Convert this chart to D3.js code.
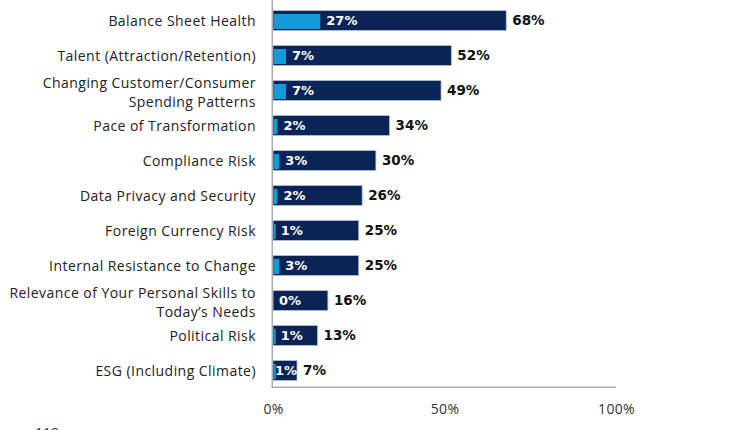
<!DOCTYPE html>
<html>
<head>
<meta charset="utf-8">
<script src="https://cdn.jsdelivr.net/npm/d3@7"></script>
<style>
  html, body { margin: 0; padding: 0; background: #fff; }
  svg { display: block; }
</style>
</head>
<body>
<svg id="chart" width="750" height="430"></svg>
<script>
const categories = [
  ["Balance Sheet Health"],
  ["Talent (Attraction/Retention)"],
  ["Changing Customer/Consumer", "Spending Patterns"],
  ["Pace of Transformation"],
  ["Compliance Risk"],
  ["Data Privacy and Security"],
  ["Foreign Currency Risk"],
  ["Internal Resistance to Change"],
  ["Relevance of Your Personal Skills to", "Today\u2019s Needs"],
  ["Political Risk"],
  ["ESG (Including Climate)"]
];
const totalValues = [68, 52, 49, 34, 30, 26, 25, 25, 16, 13, 7];
const topValues = [27, 7, 7, 2, 3, 2, 1, 3, 0, 1, 1];
const tickValues = [0, 50, 100];
const footText = "119";

const svg = d3.select("#chart");
const keys = categories.map(c => c.join(" "));

const x = d3.scaleLinear().domain([0, 100]).range([273, 616]);
const xTop = d3.scaleLinear().domain([0, 200]).range([274, 617]);
const y = d3.scaleBand().domain(keys).range([3, 388]).paddingInner(15/35).paddingOuter(15/70);

const data = keys.map((k, i) => ({ key: k, lines: categories[i], total: totalValues[i], top: topValues[i] }));

const labelFont = "'Open Sans', 'Noto Sans', sans-serif";
const valFont = "'DejaVu Sans', sans-serif";

// dark bars
svg.append("g").selectAll("rect").data(data).join("rect")
  .attr("x", x(0))
  .attr("y", d => y(d.key))
  .attr("width", d => x(d.total) - x(0))
  .attr("height", y.bandwidth())
  .attr("fill", "#0b2457")
  .attr("stroke", "#b9c3d6")
  .attr("stroke-width", 0.8);

// light blue bars
svg.append("g").selectAll("rect").data(data).join("rect")
  .attr("x", xTop(0))
  .attr("y", d => y(d.key) + 3.5)
  .attr("width", d => xTop(d.top) - xTop(0))
  .attr("height", y.bandwidth() - 5)
  .attr("fill", "#159ad8");

// inner labels
svg.append("g").selectAll("text").data(data).join("text")
  .attr("y", d => y(d.key) + y.bandwidth() / 2)
  .attr("dy", "0.36em")
  .attr("fill", "#fff")
  .attr("font-family", valFont)
  .attr("font-weight", "bold")
  .attr("font-size", "13px")
  .text(d => d.top + "%")
  .attr("x", function(d) {
    const w = this.getComputedTextLength();
    const pref = Math.max(xTop(d.top), xTop(0)) + (d.top > 1 ? 6 : 5);
    return Math.max(x(0) + 2, Math.min(pref, x(d.total) - w - 1));
  });

// outer labels
svg.append("g").selectAll("text").data(data).join("text")
  .attr("x", d => x(d.total) + 6)
  .attr("y", d => y(d.key) + y.bandwidth() / 2)
  .attr("dy", "0.36em")
  .attr("fill", "#111")
  .attr("font-family", valFont)
  .attr("font-weight", "bold")
  .attr("font-size", "13.5px")
  .text(d => d.total + "%");

// category labels
const catG = svg.append("g");
data.forEach(d => {
  const cy = y(d.key) + y.bandwidth() / 2;
  const t = catG.append("text")
    .attr("x", 256)
    .attr("text-anchor", "end")
    .attr("fill", "#222")
    .attr("font-family", labelFont)
    .attr("font-size", "14px")
    .attr("letter-spacing", "0.45px");
  if (d.lines.length === 1) {
    t.attr("y", cy).attr("dy", "0.36em").text(d.lines[0]);
  } else {
    d.lines.forEach((ln, j) => {
      t.append("tspan").attr("x", 256).attr("y", cy + (j === 0 ? -7.5 : 11)).attr("dy", "0.36em").text(ln);
    });
  }
});

// axes lines
svg.append("line").attr("x1", 272.3).attr("x2", 272.3).attr("y1", 0).attr("y2", 388)
  .attr("stroke", "#a8adb3").attr("stroke-width", 1.5);
svg.append("line").attr("x1", 271.5).attr("x2", x(100)).attr("y1", 387.3).attr("y2", 387.3)
  .attr("stroke", "#a8adb3").attr("stroke-width", 1.5);

// tick labels via axis
const axisG = svg.append("g").attr("transform", "translate(0,388)")
  .call(d3.axisBottom(x).tickValues(tickValues).tickFormat(d => d + "%").tickSize(0).tickPadding(16));
axisG.select(".domain").remove();
axisG.selectAll("text")
  .attr("font-family", labelFont)
  .attr("font-size", "14px")
  .attr("letter-spacing", "0.3px")
  .attr("fill", "#333");

// cut-off footer text (partially visible at the bottom edge in the reference)
svg.append("text").attr("x", 35).attr("y", 438)
  .attr("font-family", labelFont).attr("font-size", "14px").attr("fill", "#333")
  .text(footText);
</script>
</body>
</html>
